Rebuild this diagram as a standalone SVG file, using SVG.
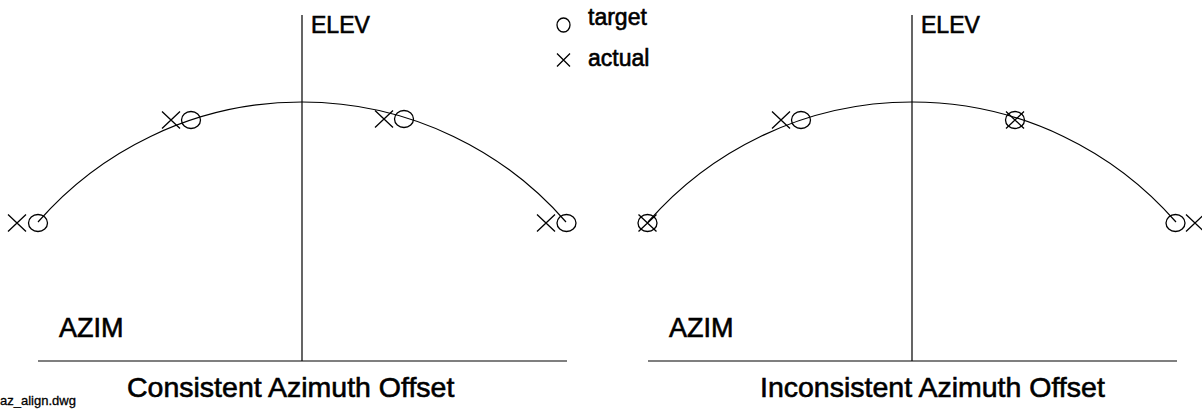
<svg xmlns="http://www.w3.org/2000/svg" width="1202" height="410" viewBox="0 0 1202 410">
<style>
.ln{fill:none;stroke:#000;stroke-width:1.2}
.mk{fill:none;stroke:#000;stroke-width:1.3}
.t{font-family:"Liberation Sans",Arial,sans-serif;fill:#000;stroke:#000;stroke-width:0.6}
</style>
<defs>
<g id="o"><ellipse cx="0" cy="0" rx="9.5" ry="8.5" class="mk"/></g>
<g id="x"><path d="M-9,-8.5L9,8.5M-9,8.5L9,-8.5" class="mk"/></g>
</defs>
<rect width="1202" height="410" fill="#fff"/>
<g id="connectors">
<path class="ln" d="M302,15V361M38,361H567"/>
<path class="ln" d="M38,222A350.4,350.4 0 0 1 566,222"/>
<path class="ln" d="M912,15V361M648,361H1177"/>
<path class="ln" d="M648,222A350.4,350.4 0 0 1 1176,222"/>
</g>
<g id="left-panel">
<use href="#x" x="17" y="223"/><use href="#o" x="38" y="223"/>
<use href="#x" x="171" y="120"/><use href="#o" x="191" y="120"/>
<use href="#x" x="384" y="119"/><use href="#o" x="404" y="119"/>
<use href="#x" x="546" y="223"/><use href="#o" x="566.5" y="223"/>
<text class="t" x="311" y="33" font-size="23">ELEV</text>
<text class="t" x="59" y="337" font-size="27">AZIM</text>
<text class="t" x="127" y="397" font-size="28.5">Consistent Azimuth Offset</text>
</g>
<g id="right-panel">
<use href="#x" x="647.5" y="223"/><use href="#o" x="647.5" y="223"/>
<use href="#x" x="781" y="120"/><use href="#o" x="801" y="120"/>
<use href="#x" x="1015" y="120"/><use href="#o" x="1015" y="120"/>
<use href="#o" x="1175.5" y="223"/><use href="#x" x="1195" y="223"/>
<text class="t" x="921" y="33" font-size="23">ELEV</text>
<text class="t" x="669" y="337" font-size="27">AZIM</text>
<text class="t" x="760" y="397" font-size="28.5">Inconsistent Azimuth Offset</text>
</g>
<g id="legend">
<ellipse cx="563.5" cy="25" rx="6.5" ry="7" class="mk"/>
<path d="M557,53.5L570,66.5M557,66.5L570,53.5" class="mk"/>
<text class="t" x="588" y="25" font-size="23">target</text>
<text class="t" x="588" y="66" font-size="23">actual</text>
</g>
<text class="t" x="0" y="405" font-size="13" style="stroke-width:0.3">az_align.dwg</text>
</svg>
